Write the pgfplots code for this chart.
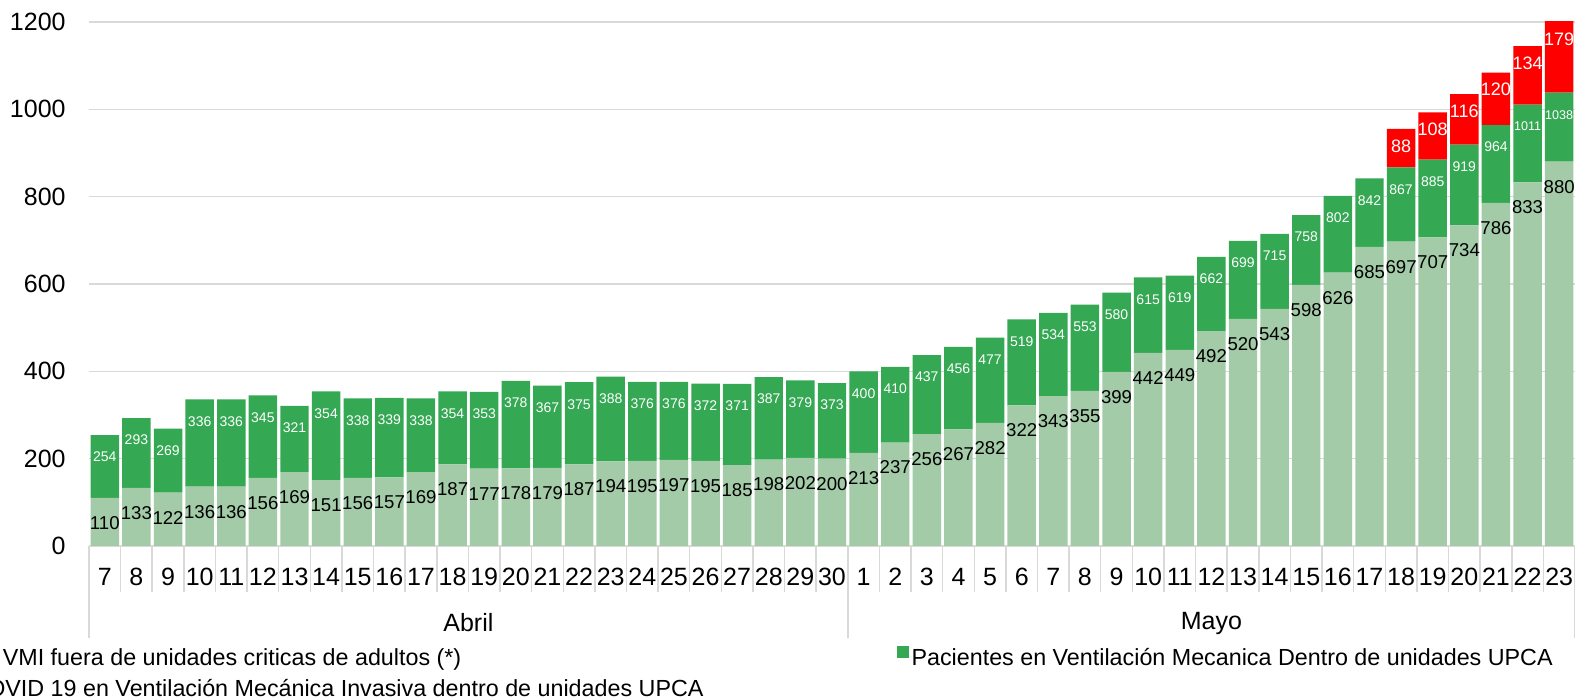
\documentclass[border=0pt]{standalone}
\usepackage{pgfplots}
\pgfplotsset{compat=1.18}
\usepackage{pgfplotstable}
\usepackage{fontspec}
\setmainfont{Liberation Sans}
\definecolor{dgreen}{RGB}{52,168,83}
\definecolor{lgreen}{RGB}{163,203,168}
\definecolor{vred}{RGB}{255,0,0}
\definecolor{gridgray}{RGB}{217,217,217}

% x: index; L: COVID en VMI dentro UPCA; T: total en VM dentro UPCA; R: VMI fuera de unidades criticas
\pgfplotstableread{
x L T R
0 110 254 0
1 133 293 0
2 122 269 0
3 136 336 0
4 136 336 0
5 156 345 0
6 169 321 0
7 151 354 0
8 156 338 0
9 157 339 0
10 169 338 0
11 187 354 0
12 177 353 0
13 178 378 0
14 179 367 0
15 187 375 0
16 194 388 0
17 195 376 0
18 197 376 0
19 195 372 0
20 185 371 0
21 198 387 0
22 202 379 0
23 200 373 0
24 213 400 0
25 237 410 0
26 256 437 0
27 267 456 0
28 282 477 0
29 322 519 0
30 343 534 0
31 355 553 0
32 399 580 0
33 442 615 0
34 449 619 0
35 492 662 0
36 520 699 0
37 543 715 0
38 598 758 0
39 626 802 0
40 685 842 0
41 697 867 88
42 707 885 108
43 734 919 116
44 786 964 120
45 833 1011 134
46 880 1038 179
}\data

\begin{document}
\begin{tikzpicture}
\begin{axis}[
  at={(0,0)}, anchor=south west,
  scale only axis, width=743pt, height=262pt,
  ybar stacked, bar width=0.9,
  xmin=-0.5, xmax=46.5, ymin=0, ymax=1200,
  enlargelimits=false,
  clip mode=individual,
  axis line style={draw=none},
  ytick={0,200,...,1200},
  ymajorgrids, grid style={gridgray, line width=0.75pt},
  xtick={0,...,46},
  xticklabels={7,8,9,10,11,12,13,14,15,16,17,18,19,20,21,22,23,24,25,26,27,28,29,30,1,2,3,4,5,6,7,8,9,10,11,12,13,14,15,16,17,18,19,20,21,22,23},
  major tick length=0pt,
  minor xtick={-0.5,0.5,...,46.5},
  minor tick length=23pt,
  tick style={draw=gridgray, line width=0.75pt},
  tick align=outside,
  xtick pos=bottom, ytick pos=left,
  extra x ticks={-0.5,23.5,46.5}, extra x tick labels={},
  extra x tick style={major tick length=46pt, grid=none},
  /pgf/number format/assume math mode=true,
  /pgf/number format/1000 sep={},
  xticklabel style={font=\fontsize{12.5}{15}\selectfont, anchor=center, inner sep=0pt, yshift=-15.5pt},
  yticklabel style={font=\fontsize{12.5}{15}\selectfont, anchor=east, inner sep=0pt, xshift=-11.5pt},
  legend columns=2, reverse legend, legend cell align=left,
  legend style={at={(axis description cs:0.985,-0.190)}, anchor=north east, draw=none, fill=none,
    inner sep=0pt, outer sep=0pt, font=\fontsize{11.65}{13}\selectfont, row sep=3.8pt,
    nodes={inner sep=0pt},
    /tikz/every even column/.append style={column sep=96.5pt},
    /tikz/every odd column/.append style={column sep=1.5pt}},
  legend image code/.code={\fill[#1] (0pt,0.6pt) rectangle (6pt,6.6pt);},
]
\addplot[fill=lgreen, draw=none, point meta=explicit symbolic, nodes near coords,
  visualization depends on={0.5*\thisrow{L} \as \h},
  every node near coord/.append style={font=\fontsize{9.3}{10}\selectfont, text=black, anchor=center, inner sep=0pt, yshift={0.218333pt*\h-12.5pt}}]
  table[x=x, y=L, meta=L]{\data};
\addlegendentry{Pacientes COVID 19 en Ventilación Mecánica Invasiva dentro de unidades UPCA}
\addplot[fill=dgreen, draw=none, point meta=explicit symbolic,
  visualization depends on={0.5*(\thisrow{T}-\thisrow{L}) \as \h},
  nodes near coords={\ifnum\pgfplotspointmeta>999 {\fontsize{6.3}{7}\selectfont\pgfplotspointmeta}\else\pgfplotspointmeta\fi},
  every node near coord/.append style={font=\fontsize{7}{8}\selectfont, text=white, anchor=center, inner sep=0pt, yshift={0.218333pt*\h-11pt}}]
  table[x=x, y expr=\thisrow{T}-\thisrow{L}, meta=T]{\data};
\addlegendentry{Pacientes en Ventilación Mecanica Dentro de unidades UPCA}
\addplot[fill=vred, draw=none]
  table[x=x, y=R]{\data};
\addlegendentry{Pacientes en VMI fuera de unidades criticas de adultos (*)}
\node[font=\fontsize{12.5}{15}\selectfont, inner sep=0pt] at (axis cs:11.5,0) [yshift=-38.5pt] {Abril};
\node[font=\fontsize{12.5}{15}\selectfont, inner sep=0pt] at (axis cs:35,0) [yshift=-38.5pt] {Mayo};
\end{axis}
% overlay axis carrying the labels of the red segments (placed at the visible top of each red bar)
\begin{axis}[
  at={(0,0)}, anchor=south west,
  scale only axis, width=743pt, height=262pt,
  xmin=-0.5, xmax=46.5, ymin=0, ymax=1200,
  enlargelimits=false, hide axis, clip=false,
]
\addplot[draw=none, mark=none, point meta=explicit symbolic,
  nodes near coords={\ifnum\pgfplotspointmeta>0 \pgfplotspointmeta\fi},
  every node near coord/.style={font=\fontsize{9}{10}\selectfont, text=white, anchor=center, inner sep=0pt, yshift=-8.5pt}]
  table[x=x, y expr={min(\thisrow{T}+\thisrow{R},1200)}, meta=R]{\data};
\end{axis}
\pgfresetboundingbox
\path[use as bounding box] (-44.5pt,-77pt) rectangle (743pt,273pt);
\end{tikzpicture}
\end{document}
